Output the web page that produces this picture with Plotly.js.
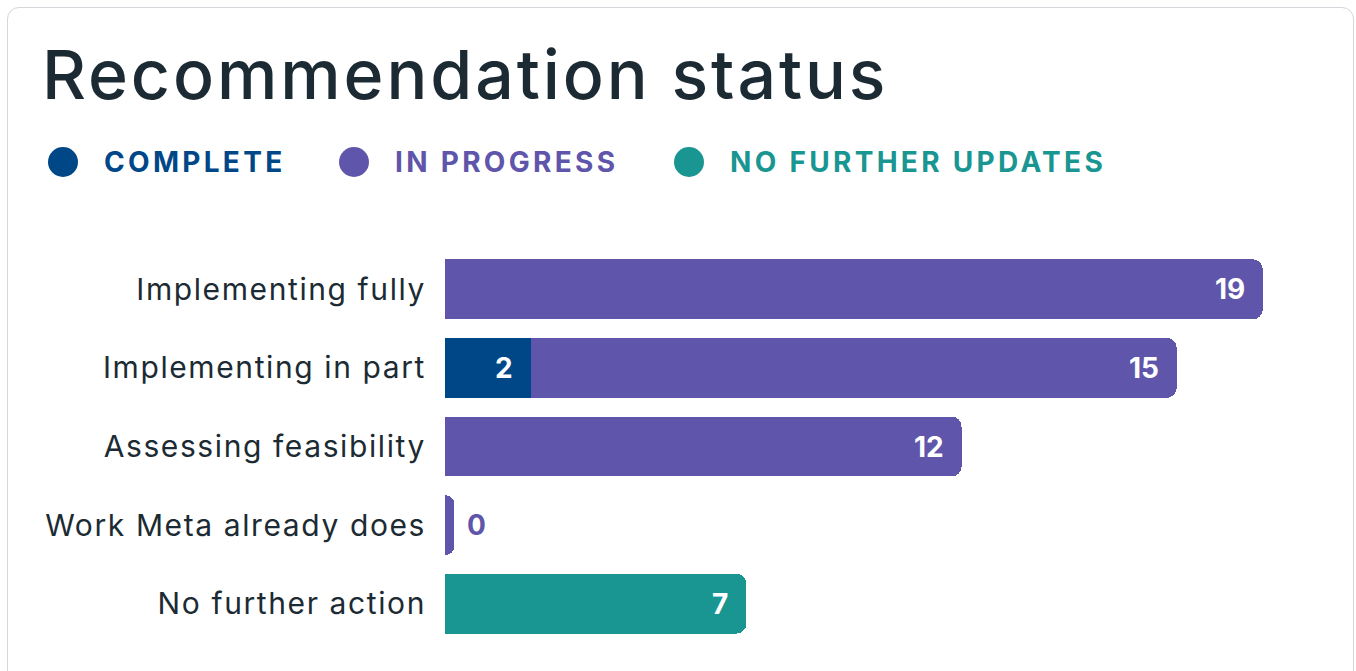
<!DOCTYPE html>
<html><head><meta charset="utf-8">
<script src="https://cdn.plot.ly/plotly-3.0.1.min.js"></script>
<style>
html,body{margin:0;padding:0;background:#fff;width:1356px;height:671px;overflow:hidden}
#card{position:absolute;left:7px;top:7px;width:1347px;height:680px;border:1.5px solid #d3d6da;border-radius:12px;box-sizing:border-box}
#chart{position:absolute;left:0;top:0;width:1356px;height:671px}
#chart .ytick text{letter-spacing:1.6px}
#chart .gtitle{letter-spacing:2.9px}
</style></head><body><div id="card"></div><div id="chart"></div>
<script>
// ---- data ----
const categories = ["Implementing fully","Implementing in part","Assessing feasibility","Work Meta already does","No further action"];
const seriesNames = ["COMPLETE","IN PROGRESS","NO FURTHER UPDATES"];
const complete = [null, 2, null, null, null];
const inProgress = [19, 15, 12, 0, null];
const noFurtherUpdates = [null, null, null, null, 7];
const colors = ["#004788", "#5f55aa", "#199692"];

// ---- layout helpers ----
const FONT = "Inter";
const L = 445, R = 20, T = 250, B = 28, WIN_W = 1356, WIN_H = 671;
const PW = WIN_W - L - R, PH = WIN_H - T - B;
const px2x = X => (X - L) / PW;
const px2y = Y => (WIN_H - B - Y) / PH;
const MIN_VISIBLE = 0.22; // a zero-value bar is drawn as a thin stub

const series = [complete, inProgress, noFurtherUpdates];
const traces = series.map((vals, si) => ({
  type: "bar", orientation: "h",
  y: categories,
  x: vals.map(v => v === null ? null : (v === 0 ? MIN_VISIBLE : v)),
  name: seriesNames[si],
  marker: { color: colors[si] },
  hoverinfo: "skip", showlegend: false
}));

const annotations = [];
const cum = categories.map(() => 0);
series.forEach((vals, si) => {
  vals.forEach((v, ci) => {
    if (v === null) return;
    if (v === 0) {
      annotations.push({ x: 0, y: categories[ci], xref: "x", yref: "y", text: String(v),
        xanchor: "left", xshift: 20, showarrow: false,
        font: { family: FONT, size: 28, weight: 700, color: colors[si] } });
    } else {
      cum[ci] += v;
      annotations.push({ x: cum[ci], y: categories[ci], xref: "x", yref: "y", text: String(v),
        xanchor: "right", xshift: -16, showarrow: false,
        font: { family: FONT, size: 28, weight: 700, color: "#ffffff" } });
    }
  });
});

// legend built from circles + labels
const legendCircleX = [63, 354, 689];
const legendTextX = [102, 393, 728];
const legendY = 162;
const shapes = [];
seriesNames.forEach((n, i) => {
  shapes.push({ type: "circle", xref: "paper", yref: "paper",
    xsizemode: "pixel", ysizemode: "pixel",
    xanchor: px2x(legendCircleX[i]), yanchor: px2y(legendY),
    x0: -15, x1: 15, y0: -15, y1: 15,
    fillcolor: colors[i], line: { width: 0 } });
  annotations.push({ xref: "paper", yref: "paper", x: px2x(legendTextX[i]), y: px2y(legendY),
    xanchor: "left", yanchor: "middle", showarrow: false,
    text: '<span style="letter-spacing:3.3px">' + n + '</span>',
    font: { family: FONT, size: 28, weight: 700, color: colors[i] } });
});

const layout = {
  width: WIN_W, height: WIN_H,
  margin: { l: L, r: R, t: T, b: B, pad: 0 },
  paper_bgcolor: "rgba(0,0,0,0)", plot_bgcolor: "rgba(0,0,0,0)",
  title: { text: "Recommendation status", xref: "container", yref: "container",
    x: 42 / WIN_W, xanchor: "left", y: 1 - 75 / WIN_H, yanchor: "middle",
    font: { family: FONT, size: 68, weight: 500, color: "#1c2b33" } },
  barmode: "stack", bargap: 0.238, barcornerradius: 10,
  xaxis: { range: [0, 20.7], visible: false, fixedrange: true },
  yaxis: { type: "category", autorange: "reversed", showgrid: false, zeroline: false,
    showline: false, ticks: "", ticklabelstandoff: 18,
    tickfont: { family: FONT, size: 30, color: "#1c2b33" } },
  shapes: shapes, annotations: annotations,
  showlegend: false
};

Plotly.newPlot("chart", traces, layout, { staticPlot: true, displayModeBar: false });
</script></body></html>
